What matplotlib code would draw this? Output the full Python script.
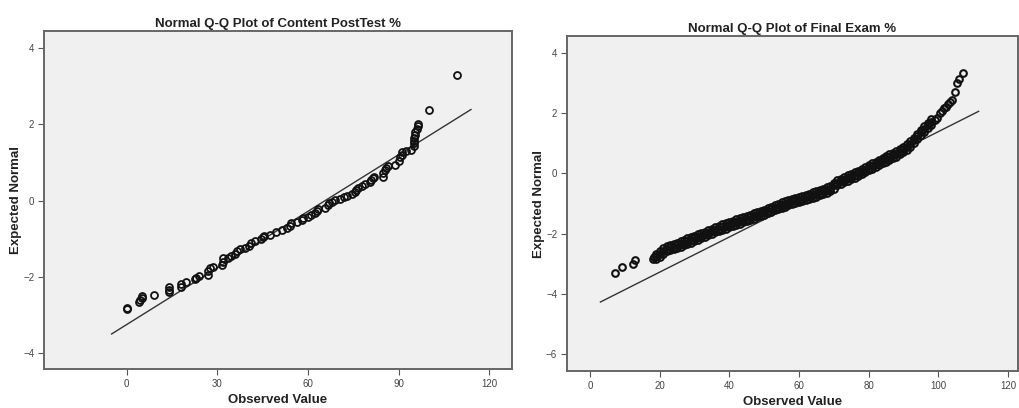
import matplotlib
matplotlib.use("Agg")
import matplotlib.pyplot as plt

plt.rcParams['font.family'] = ['Liberation Sans', 'DejaVu Sans']

# Content PostTest % : observed value vs expected normal
post_obs = [0, 0, 4, 4.5, 5, 5, 9, 14, 14, 14, 18, 18, 19.5, 22.5, 23, 24,
            27, 27, 27.5, 28.5, 31.5, 32, 32, 33.5, 34.5, 36, 36.5, 37.5, 39,
            40.5, 41, 42.5, 44.5, 45, 45.5, 47.5, 49.5, 51.5, 53, 54, 54.5,
            56.5, 58, 58.5, 60, 61, 62.5, 63, 63.5, 65.5, 66.5, 67, 68, 69,
            70.5, 72, 73, 74.5, 75.5, 76, 76.5, 78, 79, 80.5, 81, 81.5, 82,
            85, 85, 85.5, 86, 86.5, 89, 90, 90.5, 91, 91, 92.5, 94, 95, 95,
            95, 95.2, 95.4, 95.6, 96, 96.5, 96.5, 100, 109.5]
post_exp = [-2.84, -2.82, -2.65, -2.6, -2.55, -2.5, -2.47, -2.4, -2.34, -2.28,
            -2.26, -2.2, -2.15, -2.07, -2.02, -1.98, -1.95, -1.85, -1.78,
            -1.74, -1.68, -1.6, -1.52, -1.5, -1.46, -1.4, -1.32, -1.28, -1.24,
            -1.2, -1.12, -1.06, -1.02, -0.96, -0.92, -0.9, -0.83, -0.76, -0.72,
            -0.66, -0.6, -0.57, -0.52, -0.45, -0.42, -0.38, -0.33, -0.27,
            -0.22, -0.2, -0.12, -0.07, -0.03, 0.02, 0.05, 0.09, 0.13, 0.17,
            0.22, 0.27, 0.33, 0.38, 0.43, 0.48, 0.53, 0.58, 0.63, 0.62, 0.72,
            0.8, 0.86, 0.92, 0.93, 1.05, 1.14, 1.2, 1.27, 1.31, 1.34, 1.42,
            1.5, 1.57, 1.65, 1.73, 1.8, 1.88, 1.95, 2.0, 2.37, 3.3]
post_line_x = [-5, 114]
post_line_y = [-3.5, 2.39]

# Final Exam % : observed value vs expected normal
final_obs = [7.3, 9.2, 12.4, 12.9, 18, 18.5,
             19, 19, 19, 20, 20, 20, 21, 21, 21, 22, 22, 22, 23, 23, 23,
             24, 24, 24, 25, 25, 25, 26, 26, 26, 27, 27, 27, 28, 28, 28,
             29, 29, 29, 30, 30, 30, 31, 31, 31, 32, 32, 32, 33, 33, 33,
             34, 34, 34, 35, 35, 35, 36, 36, 36, 37, 37, 37, 38, 38, 38,
             39, 39, 39, 40, 40, 40, 41, 41, 41, 42, 42, 42, 43, 43, 43,
             44, 44, 44, 45, 45, 45, 46, 46, 46, 47, 47, 47, 48, 48, 48,
             49, 49, 49, 50, 50, 50, 51, 51, 51, 52, 52, 52, 53, 53, 53,
             54, 54, 54, 55, 55, 55, 56, 56, 56, 57, 57, 57, 58, 58, 58,
             59, 59, 59, 60, 60, 60, 61, 61, 61, 62, 62, 62, 63, 63, 63,
             64, 64, 64, 65, 65, 65, 66, 66, 66, 67, 67, 67, 68, 68, 68,
             69, 69, 69, 70, 70, 70, 71, 71, 71, 72, 72, 72, 73, 73, 73,
             74, 74, 74, 75, 75, 75, 76, 76, 76, 77, 77, 77, 78, 78, 78,
             79, 79, 79, 80, 80, 80, 81, 81, 81, 82, 82, 82, 83, 83, 83,
             84, 84, 84, 85, 85, 85, 86, 86, 86, 87, 87, 87, 88, 88, 88,
             89, 89, 89, 90, 90, 90, 91, 91, 91, 92, 92, 92, 93, 93, 93,
             94, 94, 94, 95, 95, 95, 96, 96, 96, 97, 97, 97, 98, 98, 98,
             99, 99.6, 100.4, 101, 101.6, 102.2, 102.7, 103.3, 103.9, 104.7,
             105.3, 105.9, 107]
final_exp = [-3.31, -3.11, -3.0, -2.89, -2.83, -2.79,
             -2.84, -2.75, -2.66, -2.76, -2.67, -2.58, -2.67, -2.58, -2.49,
             -2.59, -2.50, -2.41, -2.55, -2.46, -2.37,
             -2.52, -2.43, -2.34, -2.48, -2.39, -2.30, -2.43, -2.34, -2.25,
             -2.39, -2.30, -2.21, -2.34, -2.25, -2.16,
             -2.30, -2.21, -2.12, -2.25, -2.16, -2.07, -2.20, -2.11, -2.02,
             -2.16, -2.07, -1.98, -2.11, -2.02, -1.93,
             -2.06, -1.97, -1.88, -2.01, -1.92, -1.83, -1.96, -1.87, -1.78,
             -1.92, -1.83, -1.74, -1.87, -1.78, -1.69,
             -1.83, -1.74, -1.65, -1.79, -1.70, -1.61, -1.75, -1.66, -1.57,
             -1.71, -1.62, -1.53, -1.67, -1.58, -1.49,
             -1.63, -1.54, -1.45, -1.59, -1.50, -1.41, -1.55, -1.46, -1.37,
             -1.51, -1.42, -1.33, -1.46, -1.37, -1.28,
             -1.42, -1.33, -1.24, -1.38, -1.29, -1.20, -1.33, -1.24, -1.15,
             -1.28, -1.19, -1.10, -1.23, -1.14, -1.05,
             -1.19, -1.10, -1.01, -1.14, -1.05, -0.96, -1.10, -1.01, -0.92,
             -1.06, -0.97, -0.88, -1.02, -0.93, -0.84,
             -0.99, -0.90, -0.81, -0.96, -0.87, -0.78, -0.93, -0.84, -0.75,
             -0.89, -0.80, -0.71, -0.85, -0.76, -0.67,
             -0.81, -0.72, -0.63, -0.77, -0.68, -0.59, -0.73, -0.64, -0.55,
             -0.69, -0.60, -0.51, -0.64, -0.55, -0.46,
             -0.60, -0.51, -0.42, -0.52, -0.40, -0.31, -0.40, -0.31, -0.22,
             -0.35, -0.26, -0.17, -0.30, -0.21, -0.12,
             -0.25, -0.16, -0.07, -0.20, -0.11, -0.02, -0.15, -0.06, 0.03,
             -0.09, 0.00, 0.09, -0.03, 0.06, 0.15,
             0.03, 0.12, 0.21, 0.10, 0.19, 0.28, 0.15, 0.24, 0.33,
             0.21, 0.30, 0.39, 0.28, 0.37, 0.46,
             0.34, 0.43, 0.52, 0.39, 0.48, 0.57, 0.45, 0.54, 0.63,
             0.51, 0.60, 0.69, 0.56, 0.65, 0.74,
             0.63, 0.72, 0.81, 0.71, 0.80, 0.89, 0.78, 0.87, 0.96,
             0.89, 0.98, 1.07, 1.01, 1.10, 1.19,
             1.14, 1.23, 1.32, 1.27, 1.36, 1.45, 1.39, 1.48, 1.57,
             1.50, 1.59, 1.68, 1.61, 1.70, 1.79,
             1.76, 1.83, 1.99, 2.06, 2.16, 2.22, 2.29, 2.36, 2.43, 2.69,
             2.99, 3.12, 3.32]
final_line_x = [3, 111.6]
final_line_y = [-4.27, 2.06]

panels = [
    dict(title="Normal Q-Q Plot of Content PostTest %", obs=post_obs, exp=post_exp,
         lx=post_line_x, ly=post_line_y, rect=[0.0432, 0.0956, 0.4593, 0.8284],
         xlim=(-27.4, 127.6), ylim=(-4.42, 4.45), xticks=[0, 30, 60, 90, 120],
         yticks=[-4, -2, 0, 2, 4], ms=5.0, mew=1.3),
    dict(title="Normal Q-Q Plot of Final Exam %", obs=final_obs, exp=final_exp,
         lx=final_line_x, ly=final_line_y, rect=[0.5564, 0.0907, 0.4426, 0.821],
         xlim=(-6.6, 122.9), ylim=(-6.56, 4.56), xticks=[0, 20, 40, 60, 80, 100, 120],
         yticks=[-6, -4, -2, 0, 2, 4], ms=4.8, mew=1.5),
]

fig = plt.figure(figsize=(10.19, 4.08), dpi=100)

for p in panels:
    ax = fig.add_axes(p["rect"])
    ax.set_facecolor("#f0f0f0")
    ax.plot(p["lx"], p["ly"], color="#333333", linewidth=1.0, zorder=2)
    ax.plot(p["obs"], p["exp"], linestyle="none", marker="o", markersize=p["ms"],
            markerfacecolor="none", markeredgecolor="#111111", markeredgewidth=p["mew"],
            zorder=3)
    ax.set_xlim(*p["xlim"])
    ax.set_ylim(*p["ylim"])
    ax.set_xticks(p["xticks"])
    ax.set_yticks(p["yticks"])
    for s in ax.spines.values():
        s.set_color("#666666")
        s.set_linewidth(1.4)
    ax.tick_params(direction="out", length=4, width=0.8, color="#555555",
                   labelsize=7, labelcolor="#444444", pad=3)
    ax.set_title(p["title"], fontsize=9.5, fontweight="bold", color="#222222", pad=3)
    ax.set_xlabel("Observed Value", fontsize=9.5, fontweight="bold", color="#222222",
                  labelpad=4)
    ax.set_ylabel("Expected Normal", fontsize=9.5, fontweight="bold", color="#222222",
                  labelpad=1)

fig.savefig("out.png", dpi=100)
